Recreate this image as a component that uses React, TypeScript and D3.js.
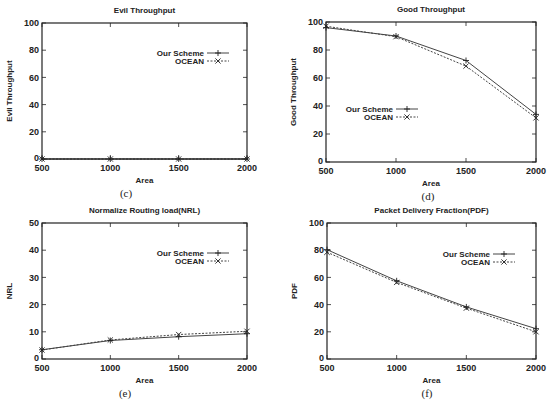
import React from 'react';
import * as d3 from 'd3';

const areas = [500, 1000, 1500, 2000];

const evilOurs = [0, 0, 0, 0];
const evilOcean = [0, 0, 0, 0];

const goodOurs = [96, 90, 72.5, 34];
const goodOcean = [97, 89.5, 68.5, 31.5];

const nrlOurs = [3.4, 6.8, 8.2, 9.3];
const nrlOcean = [3.3, 7, 9, 10.2];

const pdfOurs = [80.4, 57.5, 38.3, 22.3];
const pdfOcean = [78.5, 56.3, 37.4, 20];

const seriesNames = ['Our Scheme', 'OCEAN'];

interface PanelProps {
  title: string;
  yLabel: string;
  caption: string;
  yMax: number;
  yTicks: number[];
  ours: number[];
  ocean: number[];
  box: { left: number; right: number; top: number; bottom: number };
  legend: { x: number; y: number };
  captionX: number;
}

const font = 'Liberation Sans, Arial, sans-serif';
const ink = '#222';

const Plus: React.FC<{ x: number; y: number }> = ({ x, y }) => (
  <path d={`M${x - 3},${y}H${x + 3}M${x},${y - 3}V${y + 3}`} stroke={ink} strokeWidth={0.9} />
);

const Cross: React.FC<{ x: number; y: number }> = ({ x, y }) => (
  <path d={`M${x - 2.6},${y - 2.6}L${x + 2.6},${y + 2.6}M${x - 2.6},${y + 2.6}L${x + 2.6},${y - 2.6}`} stroke={ink} strokeWidth={0.9} />
);

const Panel: React.FC<PanelProps> = ({ title, yLabel, caption, yMax, yTicks, ours, ocean, box, legend, captionX }) => {
  const x = d3.scaleLinear().domain([500, 2000]).range([box.left, box.right]);
  const y = d3.scaleLinear().domain([0, yMax]).range([box.bottom, box.top]);
  const line = d3.line<number>().x((_, i) => x(areas[i])).y((v) => y(v));
  const cx = (box.left + box.right) / 2;
  const cy = (box.top + box.bottom) / 2;

  return (
    <g fontFamily={font} fill={ink}>
      <text x={cx} y={box.top - 10} textAnchor="middle" fontSize={8} fontWeight={700}>{title}</text>
      <text
        transform={`translate(${box.left - 30},${cy}) rotate(-90)`}
        textAnchor="middle"
        fontSize={8}
        fontWeight={700}
      >
        {yLabel}
      </text>
      {yTicks.map((t) => (
        <g key={`y${t}`}>
          <line x1={box.left} x2={box.left + 4} y1={y(t)} y2={y(t)} stroke={ink} strokeWidth={0.8} />
          <line x1={box.right} x2={box.right - 4} y1={y(t)} y2={y(t)} stroke={ink} strokeWidth={0.8} />
          <text x={box.left - 3} y={y(t)} dy={t === 0 ? '0.2em' : '0.35em'} textAnchor="end" fontSize={9} fontWeight={700}>{t}</text>
        </g>
      ))}
      {areas.map((a) => (
        <g key={`x${a}`}>
          <line x1={x(a)} x2={x(a)} y1={box.bottom} y2={box.bottom - 4} stroke={ink} strokeWidth={0.8} />
          <line x1={x(a)} x2={x(a)} y1={box.top} y2={box.top + 4} stroke={ink} strokeWidth={0.8} />
          <text x={x(a)} y={box.bottom + 11.5} textAnchor="middle" fontSize={9} fontWeight={700}>{a}</text>
        </g>
      ))}
      <text x={cx} y={box.bottom + 24} textAnchor="middle" fontSize={8} fontWeight={700}>Area</text>
      <text x={captionX} y={box.bottom + 38} textAnchor="middle" fontSize={11} fontFamily="Liberation Serif, serif">{caption}</text>

      <path d={line(ours) ?? ''} fill="none" stroke="#444" strokeWidth={1} />
      <path d={line(ocean) ?? ''} fill="none" stroke="#444" strokeWidth={1} strokeDasharray="2,1.5" />
      {ours.map((v, i) => <Plus key={`p${i}`} x={x(areas[i])} y={y(v)} />)}
      {ocean.map((v, i) => <Cross key={`c${i}`} x={x(areas[i])} y={y(v)} />)}

      <rect x={box.left} y={box.top} width={box.right - box.left} height={box.bottom - box.top} fill="none" stroke={ink} strokeWidth={1.2} />

      {seriesNames.map((name, i) => {
        const ly = legend.y + i * 8;
        return (
          <g key={name}>
            <text x={legend.x} y={ly} dy="0.35em" textAnchor="end" fontSize={8} fontWeight={700}>{name}</text>
            <line
              x1={legend.x + 3}
              x2={legend.x + 25}
              y1={ly}
              y2={ly}
              stroke="#444"
              strokeWidth={1}
              strokeDasharray={i === 1 ? '2,1.5' : undefined}
            />
            {i === 0 ? <Plus x={legend.x + 14} y={ly} /> : <Cross x={legend.x + 14} y={ly} />}
          </g>
        );
      })}
    </g>
  );
};

const hundred = [0, 20, 40, 60, 80, 100];
const fifty = [0, 10, 20, 30, 40, 50];

export default function App() {
  return (
    <svg width={550} height={403} style={{ position: 'absolute', left: 0, top: 0, background: '#fff' }}>
      <Panel
        title="Evil Throughput"
        yLabel="Evil Throughput"
        caption="(c)"
        yMax={100}
        yTicks={hundred}
        ours={evilOurs}
        ocean={evilOcean}
        box={{ left: 42, right: 247, top: 23, bottom: 159 }}
        legend={{ x: 204, y: 53 }}
        captionX={126}
      />
      <Panel
        title="Good Throughput"
        yLabel="Good Throughput"
        caption="(d)"
        yMax={100}
        yTicks={hundred}
        ours={goodOurs}
        ocean={goodOcean}
        box={{ left: 326, right: 536, top: 22, bottom: 162 }}
        legend={{ x: 393, y: 109 }}
        captionX={428}
      />
      <Panel
        title="Normalize Routing load(NRL)"
        yLabel="NRL"
        caption="(e)"
        yMax={50}
        yTicks={fifty}
        ours={nrlOurs}
        ocean={nrlOcean}
        box={{ left: 42, right: 247, top: 223, bottom: 359 }}
        legend={{ x: 204, y: 253 }}
        captionX={125}
      />
      <Panel
        title="Packet Delivery Fraction(PDF)"
        yLabel="PDF"
        caption="(f)"
        yMax={100}
        yTicks={hundred}
        ours={pdfOurs}
        ocean={pdfOcean}
        box={{ left: 327, right: 536, top: 223, bottom: 359 }}
        legend={{ x: 490, y: 254 }}
        captionX={427}
      />
    </svg>
  );
}
